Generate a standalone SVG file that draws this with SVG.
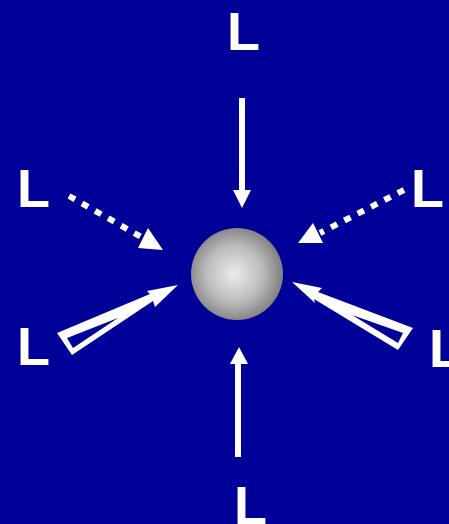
<svg xmlns="http://www.w3.org/2000/svg" width="449" height="524" viewBox="0 0 449 524">
<defs>
<radialGradient id="sph" cx="0.47" cy="0.5" r="0.55">
<stop offset="0" stop-color="#ececec"/>
<stop offset="0.55" stop-color="#bcbcbc"/>
<stop offset="1" stop-color="#7a7a7a"/>
</radialGradient>
<style>
.lbl{font-family:"Liberation Sans",Arial,sans-serif;font-weight:bold;font-size:54px;fill:#fff}
.ln{stroke:#fff;stroke-width:6;fill:none}
.dot{stroke:#fff;stroke-width:6;fill:none;stroke-dasharray:7 8}
.hd{fill:#fff}
.bg{fill:#000099}
</style>
</defs>
<rect width="449" height="524" fill="#000099"/>
<g id="sphere"><circle cx="237" cy="274" r="46" fill="url(#sph)"/></g>
<g id="label-top"><text class="lbl" x="227" y="50">L</text></g>
<g id="label-left-top"><text class="lbl" x="17" y="207">L</text></g>
<g id="label-left-bottom"><text class="lbl" x="17" y="365">L</text></g>
<g id="label-right-top"><text class="lbl" x="411" y="207">L</text></g>
<g id="label-right-bottom"><text class="lbl" x="429" y="367">L</text></g>
<g id="label-bottom"><text class="lbl" x="234" y="524">L</text></g>
<g id="connectors">
<line class="ln" x1="242" y1="98" x2="242" y2="192"/>
<polygon class="hd" points="233,190 251,190 242,208"/>
<line class="ln" x1="238" y1="457" x2="238" y2="362"/>
<polygon class="hd" points="230,364 248,364 239,347"/>
<line class="dot" x1="69" y1="196" x2="143" y2="238"/>
<polygon class="hd" points="163,250 138,248 148,228"/>
<line class="dot" x1="404" y1="190" x2="320" y2="233"/>
<polygon class="hd" points="298,243 313,223 323,243"/>
<polygon class="hd" points="57,333 150,294 147,291 178,285 155,307 153,301 72,355"/>
<polygon class="bg" points="67,338 118,318 73,348"/>
<polygon class="hd" points="292,282 322,288 318,292 413,328 398,350 314,299 315,303"/>
<polygon class="bg" points="352,315 403,333 398,343"/>
</g>
</svg>
